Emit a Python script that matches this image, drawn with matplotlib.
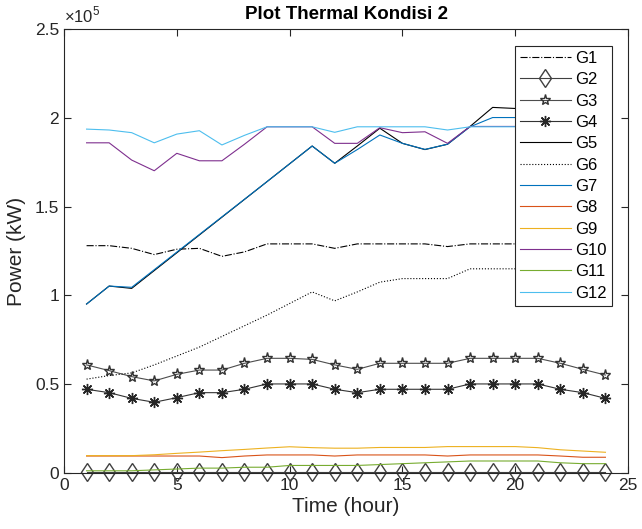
import matplotlib
matplotlib.use('Agg')
import matplotlib.pyplot as plt
from matplotlib.ticker import FuncFormatter

plt.rcParams['font.family'] = ['Liberation Sans', 'DejaVu Sans']
plt.rcParams['mathtext.fontset'] = 'custom'
plt.rcParams['mathtext.rm'] = 'Liberation Sans'

# hours 1..24
hours = list(range(1, 25))

# power of each thermal unit (kW)
g1 = [128000, 128000, 126500, 123000, 126000, 126500, 122000, 124500, 129000, 129000, 129000, 126500,
      129000, 129000, 129000, 129000, 127500, 129000, 129000, 129000, 129000, 129000, 129000, 129000]
g2 = [1000] * 24
g3 = [61000, 57800, 54400, 52000, 55700, 58100, 58100, 61900, 64700, 64700, 64100, 61000,
      58500, 61900, 61900, 61900, 61900, 64700, 64700, 64700, 64700, 61900, 58500, 55300]
g4 = [47300, 45400, 42200, 40000, 42600, 45400, 45400, 47300, 50300, 50300, 50300, 47300,
      45400, 47300, 47300, 47300, 47300, 50300, 50300, 50300, 50300, 47300, 45400, 42200]
g5 = [95200, 105300, 104000, 114000, 124000, 134000, 144000, 154000, 164000, 174000, 184000, 174300,
      184000, 194000, 185500, 182000, 185000, 195000, 205700, 205100, 205100, 205100, 205100, 205100]
g6 = [53000, 55000, 56500, 61000, 66000, 71000, 77000, 83000, 89000, 95500, 102000, 97000,
      102000, 107500, 109500, 109500, 109500, 115000, 115000, 115000, 115000, 115000, 115000, 115000]
g7 = [95200, 105300, 104600, 114500, 124400, 134300, 144200, 154100, 164000, 174000, 184000, 174300,
      182000, 190200, 185500, 182100, 185000, 194800, 200000, 200000, 200000, 200000, 200000, 200000]
g8 = [9800, 9800, 9800, 9800, 9800, 9800, 8900, 9800, 10400, 10400, 10400, 9800,
      10400, 10400, 10400, 10400, 9800, 10400, 10400, 10400, 10400, 9800, 9100, 9100]
g9 = [10000, 10000, 10000, 10500, 11300, 12000, 12800, 13500, 14300, 15000, 14500, 14200,
      14200, 14600, 14600, 14600, 15100, 15100, 15100, 15100, 14500, 13300, 12600, 11900]
g10 = [185800, 185800, 176100, 170100, 179900, 175700, 175700, 185000, 194800, 194800, 194800, 185500,
       185500, 194300, 191500, 192000, 185500, 195000, 195000, 195000, 195000, 195000, 195000, 195000]
g11 = [1500, 1500, 1500, 2000, 2500, 3000, 3000, 3500, 3500, 4500, 4500, 4500,
       4500, 5000, 5500, 6000, 6500, 7000, 7000, 7000, 7000, 6000, 5500, 5500]
g12 = [193500, 193000, 191500, 185800, 190700, 192600, 184600, 190000, 194800, 194800, 194800, 191700,
       194800, 194800, 194800, 194800, 193000, 194800, 194800, 194800, 194800, 194800, 194800, 194800]

fig = plt.figure(figsize=(6.42, 5.29), dpi=100)
ax = fig.add_axes([0.0997, 0.105, 0.8785, 0.841])

lw = 0.8
ax.plot(hours, g1, color='k', linestyle='-.', lw=lw, label='G1')
ax.plot(hours, g2, color='0.25', lw=lw, marker='d', markersize=9.5, mfc='none', mec='0.25',
        clip_on=False, label='G2')
ax.plot(hours, g3, color='0.3', lw=lw, marker='*', markersize=8, mfc='none', mec='0.2', label='G3')
ax.plot(hours, g4, color='0.2', lw=lw, marker=(8, 2, 0), markersize=8, mec='0.15', label='G4')
ax.plot(hours, g5, color='k', lw=lw, label='G5')
ax.plot(hours, g6, color='k', linestyle=':', lw=lw, label='G6')
ax.plot(hours, g7, color='#0072BD', lw=lw, label='G7')
ax.plot(hours, g8, color='#D95319', lw=lw, label='G8')
ax.plot(hours, g9, color='#EDB120', lw=lw, label='G9')
ax.plot(hours, g10, color='#7E2F8E', lw=lw, label='G10')
ax.plot(hours, g11, color='#77AC30', lw=lw, label='G11')
ax.plot(hours, g12, color='#4DBEEE', lw=lw, label='G12')

ax.set_xlim(0, 25)
ax.set_ylim(0, 250000)
ax.set_xticks([0, 5, 10, 15, 20, 25])
ax.set_yticks([0, 50000, 100000, 150000, 200000, 250000])
ax.yaxis.set_major_formatter(FuncFormatter(lambda v, p: '%g' % (v / 1e5)))
ax.tick_params(direction='in', top=True, right=True, labelsize=12.5, colors='#262626', length=5)
for s in ax.spines.values():
    s.set_color('#262626')
    s.set_linewidth(0.8)

ax.text(0, 1.008, r'$\times10^{5}$', transform=ax.transAxes, ha='left', va='bottom',
        fontsize=12, color='#262626')
ax.set_title('Plot Thermal Kondisi 2', fontsize=13.5, fontweight='bold', pad=7)
ax.set_xlabel('Time (hour)', fontsize=15, color='#262626', labelpad=3)
ax.set_ylabel('Power (kW)', fontsize=15, color='#262626', labelpad=6)

leg = ax.legend(loc='upper right', bbox_to_anchor=(0.972, 0.961), fontsize=12,
                handlelength=3.05, handletextpad=0.3, labelspacing=0.38,
                borderpad=0.3, borderaxespad=0, fancybox=False, framealpha=1,
                edgecolor='#262626')
leg.get_frame().set_linewidth(0.8)

fig.savefig('out.png', dpi=100)
